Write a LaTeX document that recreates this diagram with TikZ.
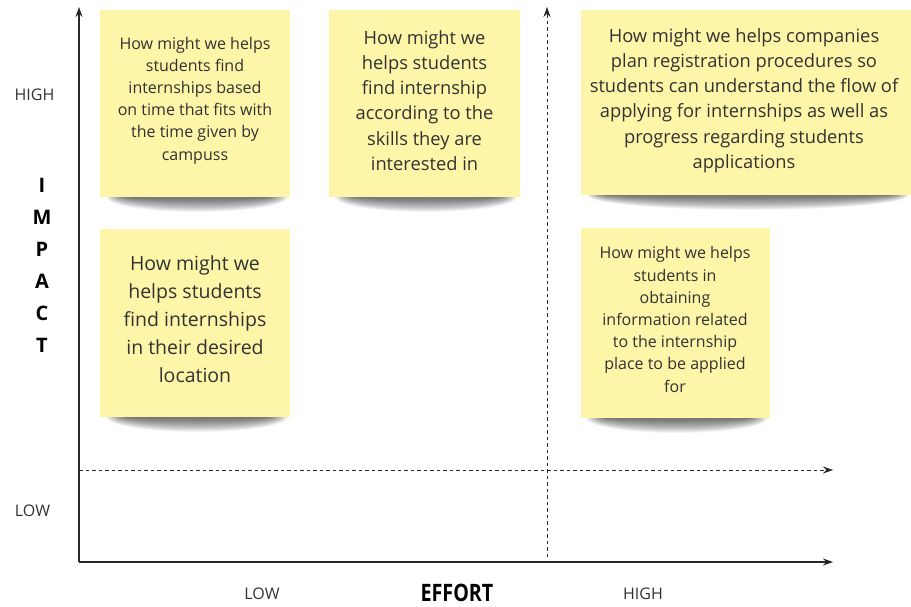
\documentclass[tikz,border=0pt]{standalone}
\usepackage{fontspec}
\setmainfont{Open Sans}
\usetikzlibrary{arrows.meta}
\definecolor{notefill}{RGB}{253,245,168}
\definecolor{txt}{RGB}{50,50,50}
\definecolor{axis}{RGB}{40,40,40}
\tikzset{
  note/.style={fill=notefill, draw=none, inner sep=0pt},
  notetext/.style={inner sep=0pt, align=center, text=txt},
  small/.style={font=\fontsize{16}{22.2}\selectfont},
  mid/.style={font=\fontsize{18.3}{25.2}\selectfont},
  big/.style={font=\fontsize{19.5}{28}\selectfont},
  axisline/.style={draw=axis, line width=1.1pt, -{Stealth[length=10pt,width=7pt]}},
  dashline/.style={draw=axis, line width=0.8pt, dash pattern=on 3.5pt off 3pt, -{Stealth[length=10pt,width=7pt]}},
  lbl/.style={text=txt, font=\fontsize{16}{18}\selectfont, inner sep=0pt},
}
\newcommand{\noteshadow}[3]{% cx, bottom y, half width
  \foreach \k in {0,...,15}{
    \fill[black, opacity=0.045] (#1,#2+1) ellipse ({#3-4-1.3*\k} and {15-0.85*\k});
  }
}
\begin{document}
\begin{tikzpicture}[x=1pt,y=-1pt]
\useasboundingbox (0,0) rectangle (911,606);
\fill[white] (0,0) rectangle (911,606);

% shadows
\noteshadow{197}{196}{95}
\noteshadow{426}{196}{95}
\noteshadow{748}{194}{165}
\noteshadow{197}{416}{95}
\noteshadow{677}{417}{95}

% notes
\node[note, minimum width=190pt, minimum height=187pt] (n1) at (195,103.5) {};
\node[note, minimum width=191pt, minimum height=187pt] (n2) at (424.5,103.5) {};
\node[note, minimum width=330pt, minimum height=185pt] (n3) at (746,102.5) {};
\node[note, minimum width=190pt, minimum height=188pt] (n4) at (195,323) {};
\node[note, minimum width=189pt, minimum height=190pt] (n5) at (675.5,323) {};

\node[notetext, small] (t1) at (195,100.5)
  {How might we helps\\students find\\internships based\\on time that fits with\\the time given by\\campuss};
\node[notetext, mid] (t2) at (424.5,100.5)
  {How might we\\helps students\\find internship\\according to the\\skills they are\\interested in};
\node[notetext, mid] (t3) at (744,100.5)
  {How might we helps companies\\plan registration procedures so\\students can understand the flow of\\applying for internships as well as\\progress regarding students\\applications};
\node[notetext, big] (t4) at (195,319)
  {How might we\\helps students\\find internships\\in their desired\\location};
\node[notetext, small] (t5) at (675,319.5)
  {How might we helps\\students in\\obtaining\\information related\\to the internship\\place to be applied\\for};

% axes
\coordinate (o) at (79,562);
\coordinate (ytop) at (79,7);
\coordinate (xend) at (833,562);
\coordinate (dl) at (79,470);
\coordinate (dr) at (833,470);
\coordinate (db) at (547,557);
\coordinate (dt) at (547,7);
\draw[dashline] (dl) -- (dr);
\draw[dashline] (db) -- (dt);
\draw[axisline] (o) -- (ytop);
\draw[axisline] (o) -- (xend);

% labels
\node[lbl] (yhigh) at (34.5,95) {HIGH};
\node[lbl] (ylow) at (32.5,511) {LOW};
\node[lbl] (xlow) at (262,594) {LOW};
\node[lbl] (xhigh) at (643,594) {HIGH};
\node[text=black, inner sep=0pt, xscale=0.82, transform shape, font=\bfseries\fontsize{24}{28}\selectfont] (effort) at (457,593) {EFFORT};
\node[text=black, inner sep=0pt, align=center, font=\bfseries\fontsize{20}{32}\selectfont] (impact) at (42,265) {I\\M\\P\\A\\C\\T};
\end{tikzpicture}
\end{document}
